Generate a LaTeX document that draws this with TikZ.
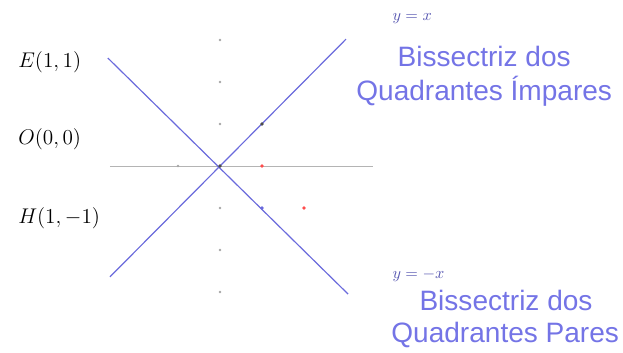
\documentclass[tikz,border=0pt]{standalone}
\usepackage{fontspec}
\setmainfont{Liberation Sans}
\usepackage{xcolor}
\usetikzlibrary{positioning}
\definecolor{bissec}{HTML}{6A6ADC}
\definecolor{bistext}{HTML}{7474E6}
\definecolor{axisgray}{HTML}{B4B4B4}

\tikzset{
  bisline/.style={draw=bissec, line width=0.8pt},
  ptlabel/.style={anchor=west, inner sep=0pt, font=\fontsize{14}{16}\selectfont},
  eqlabel/.style={anchor=west, inner sep=0pt, text=bissec!80!black, font=\fontsize{11}{12}\selectfont},
  bisname/.style={anchor=base, inner sep=0pt, text=bistext, font=\fontsize{19}{21}\selectfont},
  gdot/.style={circle, fill=black!70, inner sep=0pt, minimum size=2.5pt},
}

\begin{document}
\begin{tikzpicture}[x=1cm, y=1cm]
    \useasboundingbox (-5.238,-4.429) rectangle (9.595,3.952);
    % eixo x
    \coordinate (xl) at (-2.62,0);
    \coordinate (xr) at (3.64,0);
    \draw[axisgray, line width=0.4pt] (xl) -- (xr);
    % bissectrizes
    \coordinate (ia) at (-2.62,-2.64);
    \coordinate (ib) at (3.0,3.02);
    \coordinate (pa) at (-2.67,2.57);
    \coordinate (pb) at (3.05,-3.05);
    \draw[bisline] (ia) -- (ib);
    \draw[bisline] (pa) -- (pb);
    % pontos
    \foreach \p in {(0,3),(0,2),(0,1),(0,-1),(0,-2),(0,-3),(-1,0)}
      \node[gdot, fill=black!35, minimum size=2pt] at \p {};
    \node[gdot] (E) at (1,1) {};
    \node[gdot] (O) at (0,0) {};
    \node[gdot, fill=bissec] (H) at (1,-1) {};
    \node[gdot, fill=red!70] (R1) at (1,0) {};
    \node[gdot, fill=red!70] (R2) at (2,-1) {};
    % legendas
    \node[ptlabel] (lE) at (-4.81,2.48) {$E(1,1)$};
    \node[ptlabel] (lO) at (-4.81,0.64) {$O(0,0)$};
    \node[ptlabel] (lH) at (-4.81,-1.24) {$H(1,-1)$};
    \node[eqlabel] (eqi) at (4.10,3.52) {$y=x$};
    \node[eqlabel] (eqp) at (4.10,-2.60) {$y=-x$};
    \node[bisname] (bi1) at (6.29,2.357) {Bissectriz dos};
    \node[bisname] (bi2) at (6.29,1.571) {Quadrantes Ímpares};
    \node[bisname] (bp1) at (6.81,-3.43) {Bissectriz dos};
    \node[bisname] (bp2) at (6.79,-4.21) {Quadrantes Pares};
\end{tikzpicture}
\end{document}
